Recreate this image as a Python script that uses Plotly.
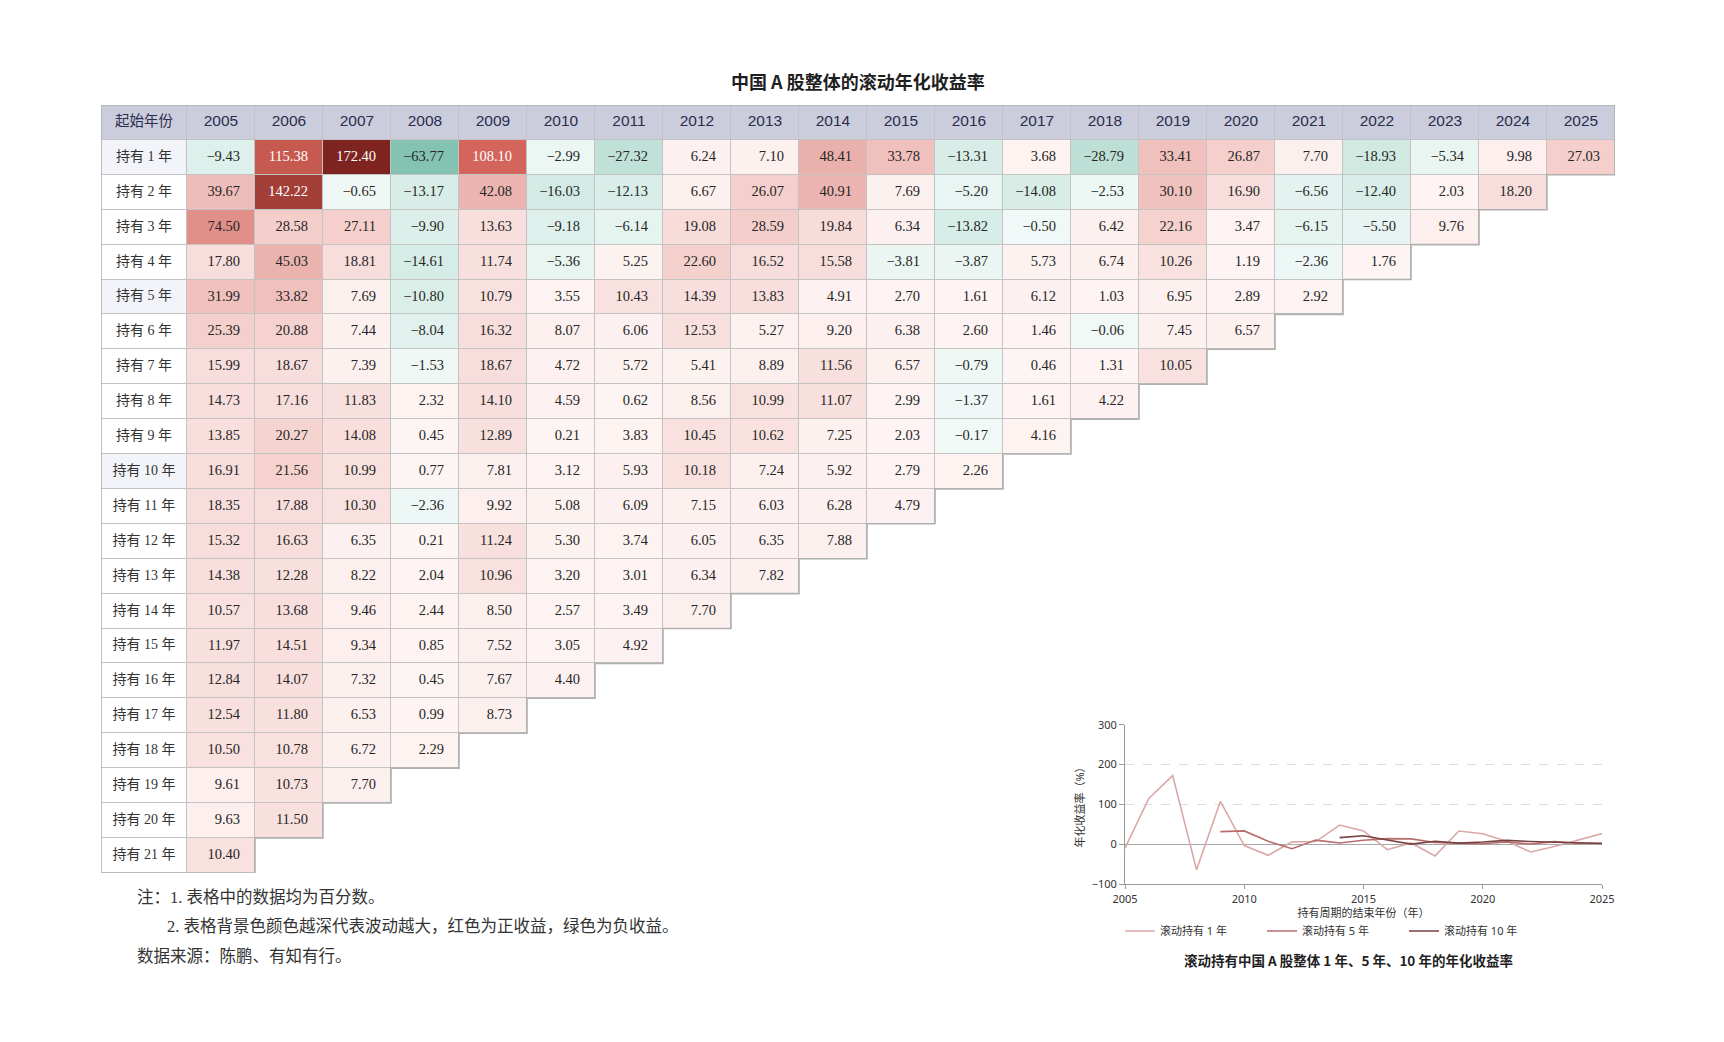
import plotly.graph_objects as go

# 起始年份
start_years = list(range(2005, 2026))

# 持有 n 年的滚动年化收益率（%），按起始年份排列
hold_01 = [-9.43, 115.38, 172.40, -63.77, 108.10, -2.99, -27.32, 6.24, 7.10, 48.41, 33.78,
           -13.31, 3.68, -28.79, 33.41, 26.87, 7.70, -18.93, -5.34, 9.98, 27.03]
hold_02 = [39.67, 142.22, -0.65, -13.17, 42.08, -16.03, -12.13, 6.67, 26.07, 40.91, 7.69,
           -5.20, -14.08, -2.53, 30.10, 16.90, -6.56, -12.40, 2.03, 18.20]
hold_03 = [74.50, 28.58, 27.11, -9.90, 13.63, -9.18, -6.14, 19.08, 28.59, 19.84, 6.34,
           -13.82, -0.50, 6.42, 22.16, 3.47, -6.15, -5.50, 9.76]
hold_04 = [17.80, 45.03, 18.81, -14.61, 11.74, -5.36, 5.25, 22.60, 16.52, 15.58, -3.81,
           -3.87, 5.73, 6.74, 10.26, 1.19, -2.36, 1.76]
hold_05 = [31.99, 33.82, 7.69, -10.80, 10.79, 3.55, 10.43, 14.39, 13.83, 4.91, 2.70,
           1.61, 6.12, 1.03, 6.95, 2.89, 2.92]
hold_06 = [25.39, 20.88, 7.44, -8.04, 16.32, 8.07, 6.06, 12.53, 5.27, 9.20, 6.38,
           2.60, 1.46, -0.06, 7.45, 6.57]
hold_07 = [15.99, 18.67, 7.39, -1.53, 18.67, 4.72, 5.72, 5.41, 8.89, 11.56, 6.57,
           -0.79, 0.46, 1.31, 10.05]
hold_08 = [14.73, 17.16, 11.83, 2.32, 14.10, 4.59, 0.62, 8.56, 10.99, 11.07, 2.99,
           -1.37, 1.61, 4.22]
hold_09 = [13.85, 20.27, 14.08, 0.45, 12.89, 0.21, 3.83, 10.45, 10.62, 7.25, 2.03,
           -0.17, 4.16]
hold_10 = [16.91, 21.56, 10.99, 0.77, 7.81, 3.12, 5.93, 10.18, 7.24, 5.92, 2.79, 2.26]
hold_11 = [18.35, 17.88, 10.30, -2.36, 9.92, 5.08, 6.09, 7.15, 6.03, 6.28, 4.79]
hold_12 = [15.32, 16.63, 6.35, 0.21, 11.24, 5.30, 3.74, 6.05, 6.35, 7.88]
hold_13 = [14.38, 12.28, 8.22, 2.04, 10.96, 3.20, 3.01, 6.34, 7.82]
hold_14 = [10.57, 13.68, 9.46, 2.44, 8.50, 2.57, 3.49, 7.70]
hold_15 = [11.97, 14.51, 9.34, 0.85, 7.52, 3.05, 4.92]
hold_16 = [12.84, 14.07, 7.32, 0.45, 7.67, 4.40]
hold_17 = [12.54, 11.80, 6.53, 0.99, 8.73]
hold_18 = [10.50, 10.78, 6.72, 2.29]
hold_19 = [9.61, 10.73, 7.70]
hold_20 = [9.63, 11.50]
hold_21 = [10.40]

rows = [hold_01, hold_02, hold_03, hold_04, hold_05, hold_06, hold_07, hold_08, hold_09,
        hold_10, hold_11, hold_12, hold_13, hold_14, hold_15, hold_16, hold_17, hold_18,
        hold_19, hold_20, hold_21]

highlight_periods = [1, 5, 10]
line_names = ["滚动持有 1 年", "滚动持有 5 年", "滚动持有 10 年"]
line_colors = ["#dba8a8", "#b86e6e", "#7a4141"]

title = "中国 A 股整体的滚动年化收益率"
sub_title = "滚动持有中国 A 股整体 1 年、5 年、10 年的年化收益率"
notes = ["注：1. 表格中的数据均为百分数。",
         "2. 表格背景色颜色越深代表波动越大，红色为正收益，绿色为负收益。",
         "数据来源：陈鹏、有知有行。"]

# 颜色分段（数值 -> 颜色）
value_stops = [-63.77, -28.8, -20, -10, -5, -0.01, 0, 9.99, 10, 19.99, 20, 29.99, 30,
               39.99, 40, 50, 75, 108, 115, 142, 172.4]
stop_colors = ["#84c3b1", "#bddfd5", "#cfe9e1", "#dcefea", "#e9f5f2", "#f1f9f7",
               "#fdf5f4", "#fcefed", "#f8e1df", "#f7dcda", "#f5d3cf", "#f4cdca",
               "#f0c2be", "#efbdb9", "#ecb6b2", "#eab0ab", "#e08e88", "#d3655d",
               "#c85a50", "#a23f38", "#7d2420"]

# 页面 body 自带 8px 边距，图自身尺寸相应缩小
OFF = 8
W, H = 1724 - 2 * OFF, 1042 - 2 * OFF


def fx(px):
    return (px - OFF) / W


def fy(px):
    return 1 - (px - OFF) / H


LEFT, TOP = 101, 105
LABEL_W, COL_W, ROW_H = 86, 68, 34.9
PAD = 15

ncol = len(start_years)
nrow = len(rows) + 1
x_edges = [0, LABEL_W] + [LABEL_W + COL_W * (k + 1) for k in range(ncol)]
y_edges = [ROW_H * k for k in range(nrow + 1)]
xc = [(x_edges[i] + x_edges[i + 1]) / 2 for i in range(ncol + 1)]
yc = [(y_edges[i] + y_edges[i + 1]) / 2 for i in range(nrow)]
tbl_w, tbl_h = x_edges[-1], y_edges[-1]

z_border = [[None] * (ncol + 1) for _ in range(nrow)]
z_head = [[None] * (ncol + 1) for _ in range(nrow)]
z_label = [[None] * (ncol + 1) for _ in range(nrow)]
z_val = [[None] * (ncol + 1) for _ in range(nrow)]
for c in range(ncol + 1):
    z_border[0][c] = 1
    z_head[0][c] = 0

tx, ty, tt, tcol = [], [], [], []
for r, vals in enumerate(rows, start=1):
    z_border[r][0] = 1
    z_label[r][0] = 1 if r in highlight_periods else 0
    for j, v in enumerate(vals):
        z_border[r][j + 1] = 1
        z_val[r][j + 1] = v
        tx.append(x_edges[j + 2] - PAD)
        ty.append(yc[r])
        tt.append(f"{v:.2f}".replace("-", "−"))
        tcol.append("#ffffff" if v > 100 else "#262626")

vmin = min(min(v) for v in rows)
vmax = max(max(v) for v in rows)
colorscale = [[(s - vmin) / (vmax - vmin), c] for s, c in zip(value_stops, stop_colors)]
colorscale[0][0] = 0.0
colorscale[-1][0] = 1.0

fig = go.Figure()

common = dict(x=x_edges, y=y_edges, showscale=False, hoverinfo="skip")
fig.add_trace(go.Heatmap(z=z_border, colorscale=[[0, "#c3c3c3"], [1, "#c3c3c3"]], **common))
fig.add_trace(go.Heatmap(z=z_head, colorscale=[[0, "#cbcddd"], [1, "#cbcddd"]],
                         xgap=1, ygap=1, **common))
fig.add_trace(go.Heatmap(z=z_label, colorscale=[[0, "#ffffff"], [1, "#f2f4f9"]],
                         zmin=0, zmax=1, xgap=1, ygap=1, **common))
fig.add_trace(go.Heatmap(z=z_val, colorscale=colorscale, zmin=vmin, zmax=vmax,
                         xgap=1, ygap=1, **common))

# 表头
head_text = ["起始年份"] + [str(y) for y in start_years]
fig.add_trace(go.Scatter(
    x=xc, y=[yc[0]] * len(xc), text=head_text, mode="text",
    textfont=dict(family="Liberation Sans, Noto Sans CJK SC", color="#2b2e4e",
                  size=[14.5] + [15.5] * ncol),
    hoverinfo="skip", showlegend=False, cliponaxis=False))

# 行标签
fig.add_trace(go.Scatter(
    x=[xc[0]] * len(rows), y=yc[1:], text=[f"持有 {n} 年" for n in range(1, len(rows) + 1)],
    mode="text",
    textfont=dict(family="Liberation Serif, Noto Sans CJK SC", color="#333333", size=14),
    hoverinfo="skip", showlegend=False, cliponaxis=False))

# 数值
fig.add_trace(go.Scatter(
    x=tx, y=ty, text=tt, mode="text", textposition="middle left",
    textfont=dict(family="Liberation Serif", color=tcol, size=14.5),
    hoverinfo="skip", showlegend=False, cliponaxis=False))

# 外框（阶梯形）
path = f"M0,0 L{x_edges[-1]},0"
for r, vals in enumerate(rows, start=1):
    xr = x_edges[len(vals) + 1]
    path += f" L{xr},{y_edges[r]} L{xr},{y_edges[r + 1]}"
path += f" L0,{y_edges[-1]} Z"
fig.add_shape(type="path", path=path, xref="x", yref="y",
              line=dict(color="#b0b0b0", width=1.6))

# 折线图：持有 1、5、10 年，横轴为结束年份
for p, name, color in zip(highlight_periods, line_names, line_colors):
    vals = rows[p - 1]
    fig.add_trace(go.Scatter(
        x=[y + p - 1 for y in start_years[:len(vals)]], y=vals, mode="lines",
        name=name, line=dict(color=color, width=1.6), xaxis="x2", yaxis="y2",
        hoverinfo="skip"))

fig.add_annotation(text=f"<b>{title}</b>", x=fx(LEFT + tbl_w / 2), y=fy(81),
                   xref="paper", yref="paper", showarrow=False, xanchor="center",
                   yanchor="middle", font=dict(family="Noto Sans CJK SC", size=18, color="#1f1f1f"))
fig.add_annotation(text=f"<b>{sub_title}</b>", x=fx(1348), y=fy(960),
                   xref="paper", yref="paper", showarrow=False, xanchor="center",
                   yanchor="middle", font=dict(family="Noto Sans CJK SC", size=13.5, color="#1f1f1f"))

for txt, nx, ny in zip(notes, [135, 165, 135], [897, 926, 956]):
    fig.add_annotation(text=txt, x=fx(nx), y=fy(ny), xref="paper", yref="paper",
                       showarrow=False, xanchor="left", yanchor="middle",
                       font=dict(family="Liberation Serif, Noto Sans CJK SC", size=16.5, color="#333333"))

axis_font = dict(family="Noto Sans, Noto Sans CJK SC", size=11, color="#333333")
fig.update_layout(
    width=W, height=H,
    margin=dict(l=0, r=0, t=0, b=0, autoexpand=False),
    paper_bgcolor="white", plot_bgcolor="white",
    xaxis=dict(domain=[fx(LEFT), fx(LEFT + tbl_w)], range=[0, tbl_w], visible=False,
               fixedrange=True, automargin=False),
    yaxis=dict(domain=[fy(TOP + tbl_h), fy(TOP)], range=[tbl_h, 0], visible=False,
               fixedrange=True, automargin=False),
    xaxis2=dict(domain=[fx(1125), fx(1602)], anchor="y2", range=[2005, 2025],
                tickvals=[2005, 2010, 2015, 2020, 2025], showgrid=False, zeroline=False,
                showline=True, linecolor="#9a9a9a", ticks="outside", ticklen=4,
                tickcolor="#9a9a9a", tickfont=axis_font, automargin=False,
                title=dict(text="持有周期的结束年份（年）", font=axis_font, standoff=4)),
    yaxis2=dict(domain=[fy(884.3), fy(724.7)], anchor="x2", range=[-100, 300],
                dtick=100, showline=True, linecolor="#9a9a9a", ticks="outside", ticklen=5,
                tickcolor="#9a9a9a", tickfont=axis_font, gridcolor="#dedede",
                griddash="dash", zeroline=True, zerolinecolor="#a8a8a8", zerolinewidth=1,
                automargin=False,
                title=dict(text="年化收益率（%）", font=axis_font, standoff=4)),
    legend=dict(orientation="h", x=fx(1120), y=fy(931), xanchor="left", yanchor="middle",
                font=axis_font, entrywidth=97, entrywidthmode="pixels", itemwidth=30,
                bgcolor="rgba(0,0,0,0)"),
)

fig.write_html("out.html")
